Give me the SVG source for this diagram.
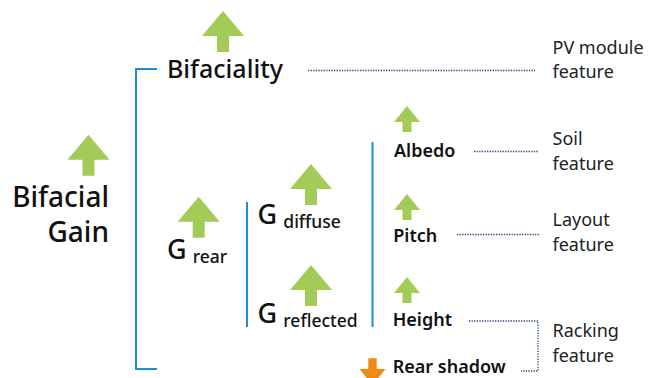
<svg xmlns="http://www.w3.org/2000/svg" width="662" height="378" viewBox="0 0 662 378">
<style>
text{font-family:"Noto Sans","Open Sans",sans-serif;fill:#111}
.big{font-size:28px;font-weight:500}
.mid{font-size:25px;font-weight:500}
.g{font-size:27px;font-weight:500}
.sub{font-size:17.5px;font-weight:500}
.lab{font-size:18px;font-weight:600}
.feat{font-size:18px;font-weight:400;fill:#222}
.blue{stroke:#1b8fd6;stroke-width:2;fill:none}
.dot{stroke:#2a4778;stroke-width:1.3;stroke-dasharray:1.3 1.3;fill:none}
</style>
<defs>
<path id="bigArrow" d="M0,0 L21,25 L6,25 L6,41 L-6,41 L-6,25 L-21,25 Z" fill="#a2cb58"/>
<path id="smallArrow" d="M0,0 L13,16 L4.5,16 L4.5,26 L-4.5,26 L-4.5,16 L-13,16 Z" fill="#a2cb58"/>
</defs>
<g id="connectors">
<path class="blue" d="M157,69 H136 V369 H157"/>
<path class="blue" d="M247,202 V327"/>
<path class="blue" d="M372.5,142 V327"/>
<path class="dot" d="M308,70.5 H535"/>
<path class="dot" d="M474,151.5 H539"/>
<path class="dot" d="M457,234.5 H539"/>
<path class="dot" d="M469,321 H538 V371 H521"/>
</g>
<g id="bifacial-gain">
<use href="#bigArrow" x="88.5" y="134.7"/>
<text class="big" x="109" y="206.7" text-anchor="end">Bifacial</text>
<text class="big" x="109" y="242.3" text-anchor="end">Gain</text>
</g>
<g id="bifaciality">
<use href="#bigArrow" x="223" y="11"/>
<text class="mid" x="167" y="77.5">Bifaciality</text>
</g>
<g id="g-rear">
<use href="#bigArrow" x="198.7" y="196.7"/>
<text x="167" y="258.7"><tspan class="g">G</tspan><tspan class="sub" x="192.7" y="262.7">rear</tspan></text>
</g>
<g id="g-diffuse">
<use href="#bigArrow" x="311" y="164"/>
<text x="257.5" y="223.5"><tspan class="g">G</tspan><tspan class="sub" x="283.3" y="228.3">diffuse</tspan></text>
</g>
<g id="g-reflected">
<use href="#bigArrow" x="311" y="265"/>
<text x="257.5" y="322.7"><tspan class="g">G</tspan><tspan class="sub" x="283.3" y="326.7">reflected</tspan></text>
</g>
<g id="albedo">
<use href="#smallArrow" x="407" y="106"/>
<text class="lab" x="394" y="156.7">Albedo</text>
</g>
<g id="pitch">
<use href="#smallArrow" x="407" y="194"/>
<text class="lab" x="393.3" y="242">Pitch</text>
</g>
<g id="height">
<use href="#smallArrow" x="407" y="277"/>
<text class="lab" x="392.7" y="326">Height</text>
</g>
<g id="rear-shadow">
<path d="M372.5,385 L385.5,369 L376.7,369 L376.7,358.3 L368.3,358.3 L368.3,369 L359.5,369 Z" fill="#f08a12"/>
<text class="lab" x="392.7" y="372.5">Rear shadow</text>
</g>
<g id="pv-module-feature">
<text class="feat" x="552.5" y="54">PV module</text>
<text class="feat" x="552.5" y="77.5">feature</text>
</g>
<g id="soil-feature">
<text class="feat" x="552.5" y="145">Soil</text>
<text class="feat" x="552.5" y="170">feature</text>
</g>
<g id="layout-feature">
<text class="feat" x="552.5" y="225.7">Layout</text>
<text class="feat" x="552.5" y="251">feature</text>
</g>
<g id="racking-feature">
<text class="feat" x="552.5" y="336.7">Racking</text>
<text class="feat" x="552.5" y="361.7">feature</text>
</g>
</svg>
